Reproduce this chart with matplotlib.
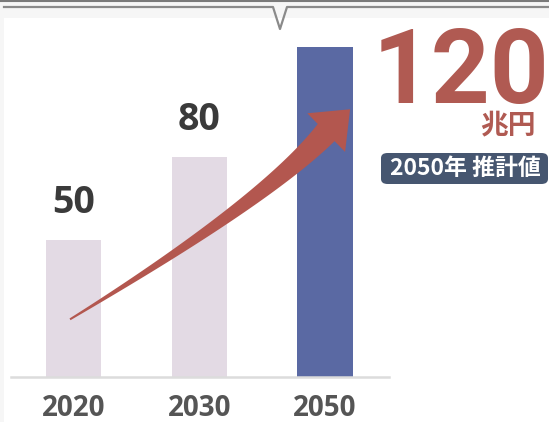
import numpy as np
import matplotlib.pyplot as plt
from matplotlib.patches import Polygon, Rectangle, FancyBboxPatch
from matplotlib.transforms import IdentityTransform

plt.rcParams['font.family'] = ['Open Sans', 'Noto Sans CJK JP', 'DejaVu Sans']

# ── Données ────────────────────────────────────
years  = ['2020', '2030', '2050']
values = [50, 80, 120]
colors = ['#e3dae4', '#e3dae4', '#5a69a3']
big_value = '120'
unit      = '兆円'
badge     = '2050年 推計値'

RED   = '#b05a52'
DARK  = '#3a3a3a'
GRAY  = '#555555'

W, H = 549, 422
fig = plt.figure(figsize=(W/100, H/100), dpi=100)
fig.patch.set_facecolor('#f6f6f6')

# fond blanc + bandeau supérieur
fig.add_artist(Rectangle((4/W, 0), 1, 1 - 18/H, transform=fig.transFigure,
                         facecolor='white', edgecolor='none', zorder=0))
fig.add_artist(plt.Line2D([0, 1], [1 - 1/H, 1 - 1/H], transform=fig.transFigure,
                          color='#7a7a7a', lw=1.5))
nx = [4, 273, 280, 287, W]
ny = [7, 7, 29, 7, 7]
fig.add_artist(plt.Line2D([v/W for v in nx], [1 - v/H for v in ny],
                          transform=fig.transFigure, color='#8a8a8a', lw=1.6))

ax = fig.add_axes([11/W, 45/H, 378/W, 357/H])
ax.set_facecolor('none')
x = np.arange(len(years))
ax.bar(x, values, width=0.44, color=colors, zorder=2)
ax.set_xlim(-0.5, 2.51)
ax.set_ylim(0, 130)

for xi, v in zip(x[:2], values[:2]):
    ax.annotate(str(v), (xi, v), xytext=(0, 13), textcoords='offset points',
                ha='center', va='bottom', fontsize=27, fontweight='bold',
                color=DARK)

ax.set_xticks(x, years)
ax.tick_params(axis='x', length=0, pad=12, labelsize=20, labelcolor=GRAY)
for lab in ax.get_xticklabels():
    lab.set_fontweight('bold')
ax.set_yticks([])
for s in ['top', 'right', 'left']:
    ax.spines[s].set_visible(False)
ax.spines['bottom'].set_color('#dcdcdc')
ax.spines['bottom'].set_linewidth(1.8)

# ── Flèche courbe effilée ──────────────────────
fig.canvas.draw()
tail = ax.transData.transform((-0.03, 21))
ctrl = ax.transData.transform((1.52, 64))
base = ax.transData.transform((2.01, 89))
tip  = ax.transData.transform((2.2, 97.5))

t = np.linspace(0, 1, 60)[:, None]
pts = (1 - t)**2 * tail + 2 * (1 - t) * t * ctrl + t**2 * base
d = np.gradient(pts, axis=0)
d /= np.linalg.norm(d, axis=1)[:, None]
n = np.column_stack([-d[:, 1], d[:, 0]])
w = (1 + 11 * t[:, 0]**1.1)[:, None]
left = pts + n * w
right = pts - n * w
hd = (tip - base) / np.linalg.norm(tip - base)
hn = np.array([-hd[1], hd[0]])
head = [base + hn * 27, tip, base - hn * 27]
poly = np.vstack([left, [base + hn * 12], head, [base - hn * 12], right[::-1]])
fig.add_artist(Polygon(poly, closed=True, transform=IdentityTransform(),
                       facecolor='#b3574f', edgecolor='none', zorder=5))

# ── Texte à droite ─────────────────────────────
fig.text(461/W, 1 - 103/H, big_value, ha='center', va='baseline',
         fontsize=74, fontweight='bold', color=RED, family='Roboto')
fig.text(536/W, 1 - 125/H, unit, ha='right', va='center',
         fontsize=20, fontweight='bold', color=RED,
         family=['Noto Sans CJK JP', 'DejaVu Sans'])
fig.add_artist(FancyBboxPatch((381/W, 1 - 184/H), 167/W, 31/H,
                              boxstyle='round,pad=0,rounding_size=0.012',
                              transform=fig.transFigure,
                              facecolor='#465670', edgecolor='none'))
fig.text(465/W, 1 - 168/H, badge, ha='center', va='center',
         fontsize=16.5, fontweight='bold', color='white',
         family=['Noto Sans CJK JP', 'DejaVu Sans'])

fig.savefig('out.png', dpi=100, facecolor=fig.get_facecolor())
